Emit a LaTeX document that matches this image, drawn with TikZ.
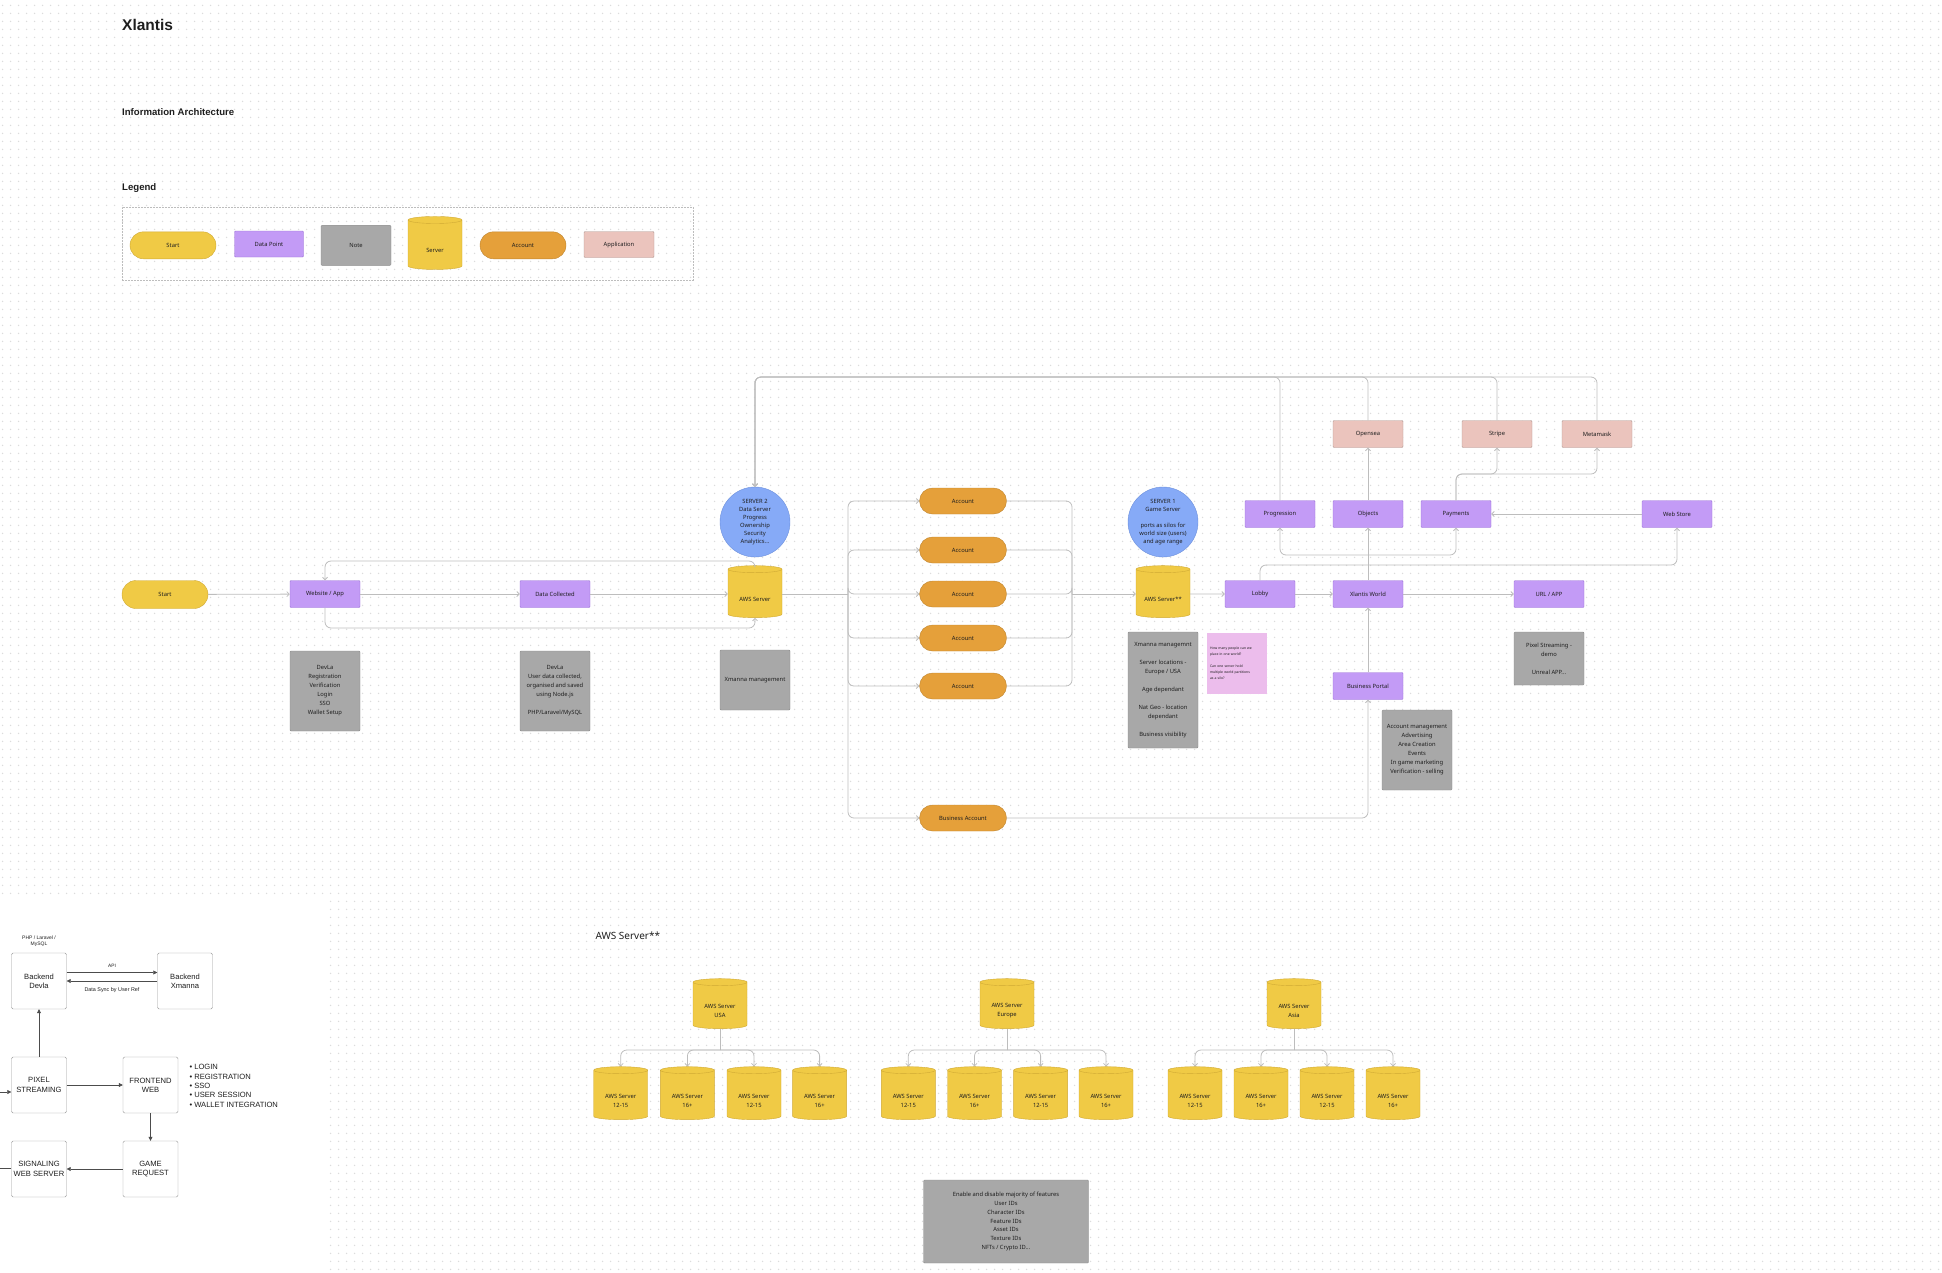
\documentclass[tikz,border=0pt]{standalone}
\usepackage{fontspec}
\setmainfont{Noto Sans}
\newfontfamily\lucid{Liberation Sans}
\usetikzlibrary{arrows.meta,positioning,shapes.geometric,patterns.meta}

\definecolor{startfill}{HTML}{F0CA45}
\definecolor{startdraw}{HTML}{CFA934}
\definecolor{datafill}{HTML}{C39BF6}
\definecolor{datadraw}{HTML}{9B72D6}
\definecolor{notefill}{HTML}{A8A8A8}
\definecolor{notedraw}{HTML}{8A8A8A}
\definecolor{accfill}{HTML}{E5A03A}
\definecolor{accdraw}{HTML}{BF8530}
\definecolor{appfill}{HTML}{EBC4BD}
\definecolor{appdraw}{HTML}{AE9691}
\definecolor{circfill}{HTML}{86AAF7}
\definecolor{circdraw}{HTML}{6C8FDB}
\definecolor{stickyfill}{HTML}{ECBDEC}
\definecolor{linegray}{HTML}{BDBDBD}
\definecolor{dotgray}{HTML}{DCDCDC}
\definecolor{boxgray}{HTML}{9A9A9A}
\definecolor{textdark}{HTML}{1E1E1E}

\newcommand{\lbl}{\fontsize{5.8}{9}\selectfont}
\newcommand{\circlbl}{\fontsize{5.8}{8}\selectfont}
\newcommand{\tinylbl}{\fontsize{3.4}{6}\selectfont}
\newcommand{\lucidlbl}{\lucid\fontsize{7.6}{9.3}\selectfont}
\newcommand{\dbbody}{\hspace*{30pt}\rule{0pt}{10pt}}

\tikzdeclarepattern{
  name=griddots,
  type=uncolored,
  bounding box={(0pt,0pt) and (8pt,8pt)},
  tile size={(8pt,8pt)},
  code={\fill (4pt,4pt) circle (0.9pt);}
}

\begin{document}
\begin{tikzpicture}[
    x=1pt, y=-1pt,
    every node/.style={text=textdark},
    base/.style={inner sep=1pt, align=center, font=\lbl},
    startbox/.style={base, draw=startdraw, fill=startfill, rounded corners=14pt, minimum width=86, minimum height=28},
    databox/.style={base, draw=datadraw, fill=datafill, rounded corners=1pt, minimum width=70, minimum height=27},
    notebox/.style={base, draw=notedraw, fill=notefill, rounded corners=1pt, minimum width=70},
    accbox/.style={base, draw=accdraw, fill=accfill, rounded corners=13pt, minimum width=87, minimum height=26},
    appbox/.style={base, draw=appdraw, fill=appfill, rounded corners=1pt, minimum width=70, minimum height=27},
    serverdb/.style={base, cylinder, shape border rotate=90, aspect=0.22, draw=startdraw, fill=startfill, minimum width=54, minimum height=52},
    dblabel/.style={label={[base, yshift=-5pt]center:{#1}}},
    circnode/.style={circle, draw=circdraw, fill=circfill, minimum size=70, inner sep=0},
    sticky/.style={fill=stickyfill, minimum width=60, minimum height=61, inner sep=3pt, text width=54, align=left, font=\tinylbl},
    heading/.style={anchor=base west, inner sep=0, font=\lucid\bfseries\fontsize{9.6}{11}\selectfont},
    conn/.style={draw=linegray, line width=0.8pt, rounded corners=6pt},
    arr/.style={conn, -{Straight Barb[length=2.5pt,width=5pt]}},
    lucidbox/.style={draw=boxgray, fill=white, rounded corners=1.5pt, minimum width=55, minimum height=56, align=center, inner sep=1pt, font=\lucidlbl},
    lline/.style={draw=black!70, line width=0.6pt},
    larr/.style={lline, -{Triangle[length=4pt,width=4pt]}}
  ]
  \useasboundingbox (0,0) rectangle (1942,1272);
  % dotted canvas
  \fill[pattern=griddots, pattern color=dotgray] (0,0) rectangle (1942,1272);
  \fill[white] (0,900) rectangle (328,1272);

  % titles
  \node[heading, font=\lucid\bfseries\fontsize{15.5}{18}\selectfont] (title) at (122,30) {Xlantis};
  \node[heading] (iatitle) at (122,115) {Information Architecture};
  \node[heading] (legendtitle) at (122,190) {Legend};

  % legend
  \node[draw=linegray, dash pattern=on 2pt off 1pt, minimum width=571, minimum height=73] (legendbox) at (407.5,243.5) {};
  \node[startbox, minimum height=27, rounded corners=13.5pt] (lgstart) at (173,245.3) {Start};
  \node[databox, minimum width=69, minimum height=26] (lgdata) at (269,244) {Data Point};
  \node[notebox, minimum height=40] (lgnote) at (356,245.3) {Note};
  \node[serverdb, minimum height=53, dblabel=Server] (lgserver) at (435,245.3) {\dbbody};
  \node[accbox, minimum width=86, minimum height=27, rounded corners=13.5pt] (lgacc) at (523,245.3) {Account};
  \node[appbox, minimum height=26] (lgapp) at (619,244.5) {Application};

  % main flow
  \node[startbox] (start) at (165,594.5) {Start};
  \node[databox] (web) at (325,594) {Website / App};
  \node[databox] (datacol) at (555,594) {Data Collected};
  \node[serverdb, dblabel={AWS Server}] (aws) at (755,594) {\dbbody};
  \node[circnode, label={[base, font=\circlbl]center:SERVER 2\\Data Server\\Progress\\Ownership\\Security\\Analytics...}] (srv2) at (755,522) {};
  \node[notebox, minimum height=80] (devla1) at (325,691) {DevLa\\Registration\\Verification\\Login\\SSO\\Wallet Setup};
  \node[notebox, minimum height=80] (devla2) at (555,691) {DevLa\\User data collected,\\organised and saved\\using Node.js\\[9pt]PHP/Laravel/MySQL};
  \node[notebox, minimum height=60] (xnote) at (755,680) {Xmanna management};

  \foreach \n/\y in {acc1/501, acc2/550, acc3/594, acc4/638, acc5/686}
    \node[accbox] (\n) at (963,\y) {Account};
  \node[accbox] (bizacc) at (963,818) {Business Account};

  \node[circnode, label={[base, font=\circlbl]center:SERVER 1\\Game Server\\[8pt]ports as silos for\\world size (users)\\and age range}] (srv1) at (1163,522) {};
  \node[serverdb, dblabel={AWS Server**}] (aws2) at (1163,594) {\dbbody};
  \node[notebox, minimum height=116] (s1note) at (1163,690) {Xmanna managemnt\\[9pt]Server locations -\\Europe / USA\\[9pt]Age dependant\\[9pt]Nat Geo - location\\dependant\\[9pt]Business visibility};
  \node[sticky] (sticky) at (1237,663.5) {How many people can we\\place in one world?\\[6pt]Can one server hold\\multiple world partitions\\as a silo?\\[10pt]};

  \node[databox] (lobby) at (1260,594) {Lobby};
  \node[databox] (xworld) at (1368,594) {Xlantis World};
  \node[databox] (url) at (1549,594) {URL / APP};
  \node[notebox, minimum height=53] (pixnote) at (1549,658.5) {Pixel Streaming -\\demo\\[9pt]Unreal APP...};
  \node[databox] (bizportal) at (1368,686) {Business Portal};
  \node[notebox, minimum height=80] (bpnote) at (1417,750) {Account management\\Advertising\\Area Creation\\Events\\In game marketing\\Verification - selling};

  \node[databox] (prog) at (1280,514) {Progression};
  \node[databox] (objects) at (1368,514) {Objects};
  \node[databox] (payments) at (1456,514) {Payments};
  \node[databox] (webstore) at (1677,514) {Web Store};
  \node[appbox] (opensea) at (1368,434) {Opensea};
  \node[appbox] (stripe) at (1497,434) {Stripe};
  \node[appbox] (metamask) at (1597,434) {Metamask};

  \coordinate (looptop) at (325,561);
  \coordinate (loopbot) at (755,628);
  \coordinate (fanout) at (848,594);
  \coordinate (fanin) at (1072,594);
  \coordinate (topleft) at (755,377);
  \coordinate (xwj) at (1368,555);
  \coordinate (storej) at (1677,565);
  \coordinate (stripej) at (1497,474);
  \coordinate (metaj) at (1597,474);

  \draw[arr] (start) -- (web);
  \draw[arr] (web) -- (datacol);
  \draw[arr] (datacol) -- (aws);
  \draw[arr] (aws.north) |- (looptop) -- (web.north);
  \draw[arr] (web.south) |- (loopbot) -- (aws.south);
  \draw[conn] (aws) -- (fanout);
  \foreach \n in {acc1,acc2,acc3,acc4,acc5,bizacc}
    \draw[arr] (fanout) |- (\n.west);
  \foreach \n in {acc1,acc2,acc3,acc4,acc5}
    \draw[conn] (\n.east) -| (fanin);
  \draw[arr] (fanin) -- (aws2);
  \draw[arr] (bizacc) -| (bizportal);
  \draw[arr] (aws2) -- (lobby);
  \draw[arr] (lobby) -- (xworld);
  \draw[arr] (xworld) -- (url);
  \draw[arr] (bizportal) -- (xworld);
  \draw[conn] (xworld.north) -- (xwj);
  \draw[arr] (xwj) -| (prog);
  \draw[arr] (xwj) -- (objects);
  \draw[arr] (xwj) -| (payments);
  \draw[arr] (lobby.north) |- (storej) -- (webstore.south);
  \draw[arr] (webstore) -- (payments);
  \draw[arr] (objects) -- (opensea);
  \draw[arr] (payments.north) |- (stripej) -- (stripe.south);
  \draw[arr] (payments.north) |- (metaj) -- (metamask.south);
  \foreach \n in {prog,opensea,stripe,metamask}
    \draw[arr] (\n.north) |- (topleft) -- (srv2.north);

  % AWS server regions
  \node[anchor=west, font=\fontsize{10}{12}\selectfont] (awstitle) at (592,936) {AWS Server**};
  \node[serverdb, minimum height=50, dblabel={AWS Server\\USA}] (usa) at (720,1006) {\dbbody};
  \node[serverdb, minimum height=50, dblabel={AWS Server\\Europe}] (eur) at (1007,1006) {\dbbody};
  \node[serverdb, minimum height=50, dblabel={AWS Server\\Asia}] (asia) at (1294,1006) {\dbbody};
  \foreach \n/\x/\t in {usa1/620.7/12-15, usa2/687.4/16+, usa3/754/12-15, usa4/819.6/16+,
                        eur1/908.3/12-15, eur2/974.5/16+, eur3/1040.6/12-15, eur4/1106/16+,
                        asia1/1195/12-15, asia2/1261/16+, asia3/1327/12-15, asia4/1393/16+}
    \node[serverdb, minimum height=53, dblabel={AWS Server\\\t}] (\n) at (\x,1095.5) {\dbbody};
  \foreach \p/\x in {usa/720, eur/1007, asia/1294} {
    \coordinate (j\p) at (\x,1050);
    \draw[conn] (\p.south) -- (j\p);
    \foreach \k in {1,...,4}
      \draw[arr] (j\p) -| (\p\k.north);
  }
  \node[notebox, minimum width=165, minimum height=83, font=\fontsize{5.8}{8.7}\selectfont] (featnote) at (1006,1221.5) {Enable and disable majority of features\\User IDs\\Character IDs\\Feature IDs\\Asset IDs\\Texture IDs\\NFTs / Crypto ID...};

  % streaming setup
  \node[align=center, font=\lucid\fontsize{5}{6.5}\selectfont] (phplbl) at (39,941) {PHP / Laravel /\\MySQL};
  \node[lucidbox] (devla) at (39,981) {Backend\\Devla};
  \node[lucidbox] (xmanna) at (185,981) {Backend\\Xmanna};
  \node[lucidbox] (pixel) at (39,1085) {PIXEL\\STREAMING};
  \node[lucidbox] (front) at (150.5,1085) {FRONTEND\\WEB};
  \node[lucidbox] (signal) at (39,1169) {SIGNALING\\WEB SERVER};
  \node[lucidbox] (game) at (150.5,1169) {GAME\\REQUEST};
  \node[anchor=north west, align=left, font=\lucidlbl] (featlist) at (186,1061) {\textbullet\ LOGIN\\\textbullet\ REGISTRATION\\\textbullet\ SSO\\\textbullet\ USER SESSION\\\textbullet\ WALLET INTEGRATION};
  \coordinate (pxin) at (0,1092);
  \coordinate (sgout) at (0,1168);

  \draw[larr] ([yshift=8.5pt]devla.east) -- ([yshift=8.5pt]xmanna.west) node[midway, above=1pt, font=\lucid\fontsize{4.8}{6}\selectfont] (apilbl) {API};
  \draw[larr] (xmanna.west) -- (devla.east) node[midway, below=3pt, font=\lucid\fontsize{5.4}{6}\selectfont] (synclbl) {Data Sync by User Ref};
  \draw[larr] (pixel) -- (devla);
  \draw[larr] (pixel) -- (front);
  \draw[larr] (pxin) -- (pxin -| pixel.west);
  \draw[larr] (front) -- (game);
  \draw[larr] (game) -- (signal);
  \draw[lline] (sgout -| signal.west) -- (sgout);
\end{tikzpicture}
\end{document}
